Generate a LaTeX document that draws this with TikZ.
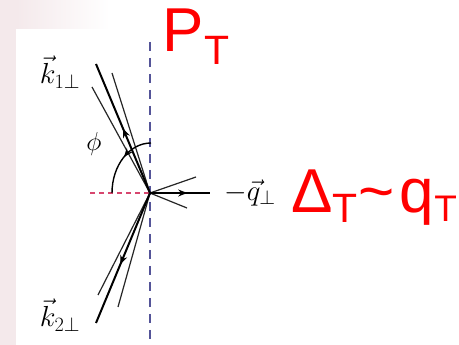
\RequirePackage{fix-cm}
\documentclass[tikz,border=0pt]{standalone}
\usepackage{fontspec}
\newfontfamily\redfont{Liberation Sans}
\usetikzlibrary{arrows.meta,decorations.markings}
\definecolor{pinkbg}{RGB}{244,233,235}
\definecolor{axisblue}{RGB}{84,84,152}
\definecolor{axisred}{RGB}{215,70,110}
\tikzset{
  thickvec/.style={line width=2pt, black},
  thinvec/.style={line width=1.2pt, black!85},
  midarrow/.style={postaction={decorate},decoration={markings,mark=at position #1 with {\arrow{Stealth[length=9pt,width=7pt]}}}},
  mathlbl/.style={inner sep=0pt, font=\fontsize{29}{29}\selectfont},
  redbig/.style={inner sep=0pt, anchor=base west, text=red, font=\redfont\fontsize{62}{62}\selectfont},
  redsub/.style={inner sep=0pt, anchor=base west, text=red, font=\redfont\fontsize{41}{41}\selectfont}
}
\begin{document}
\begin{tikzpicture}[x=1pt,y=-1pt]
\useasboundingbox (0,0) rectangle (459,345);
% background
\fill[white] (0,0) rectangle (459,345);
\fill[pinkbg] (0,0) rectangle (16,345);
\shade[left color=pinkbg, right color=white] (16,0) rectangle (110,29);
% axes
\coordinate (O) at (150,193);
\coordinate (vtop) at (150,42);
\coordinate (vbot) at (150,345);
\coordinate (hl) at (90,193);
\draw[axisblue, line width=2.4pt, dash pattern=on 9pt off 7pt] (vtop) -- (vbot);
\draw[axisred, line width=1.4pt, dash pattern=on 5pt off 4pt] (hl) -- (O);
% upper group
\coordinate (u1) at (96,64);
\coordinate (u2) at (92,87);
\coordinate (u3) at (112,73);
\draw[thinvec] (O) -- (u2);
\draw[thinvec] (O) -- (u3);
\draw[thickvec, midarrow=0.5] (O) -- (u1);
% lower group
\coordinate (d1) at (96,323);
\coordinate (d2) at (98,295);
\coordinate (d3) at (118,307);
\draw[thinvec] (O) -- (d2);
\draw[thinvec] (O) -- (d3);
\draw[thickvec, midarrow=0.55] (O) -- (d1);
% right group
\coordinate (r1) at (210,193);
\coordinate (r2) at (196,177);
\coordinate (r3) at (187,208);
\draw[thinvec] (O) -- (r2);
\draw[thinvec] (O) -- (r3);
\draw[thickvec, midarrow=0.62] (O) -- (r1);
% phi arc
\coordinate (arcstart) at (151,143);
\draw[line width=1.4pt, midarrow=0.45] (arcstart) arc[start angle=-90, end angle=-180, x radius=39, y radius=50];
% labels
\node[mathlbl] (k1) at (60,72) {$\vec k_{1\perp}$};
\node[mathlbl] (k2) at (60,315) {$\vec k_{2\perp}$};
\node[mathlbl, font=\fontsize{26}{26}\selectfont] (phi) at (94,144) {$\phi$};
\node[mathlbl] (q) at (250,193) {$-\vec q_{\perp}$};
% red texts
\node[redbig] (P) at (162,52) {P};
\node[redsub] (PT) at (204,65) {T};
\node[redbig] (D) at (291,213) {Δ\raisebox{-10pt}{\fontsize{41}{41}\selectfont T}\kern1pt\char"007E\kern5pt q\raisebox{-9pt}{\fontsize{37}{37}\selectfont T}};
\end{tikzpicture}
\end{document}
